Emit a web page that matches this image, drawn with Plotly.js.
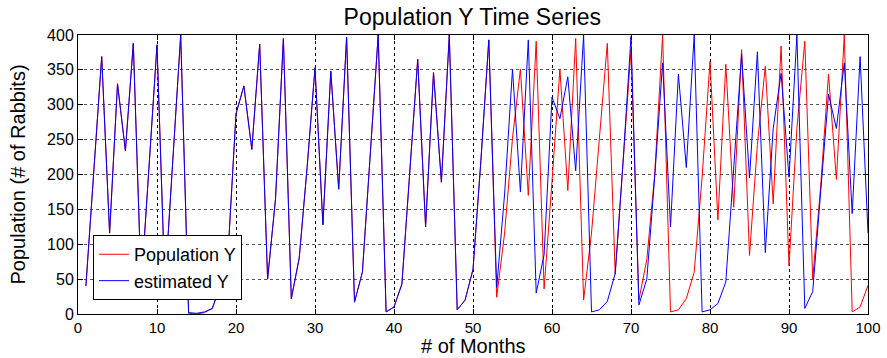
<!DOCTYPE html>
<html>
<head>
<meta charset="utf-8">
<script src="https://cdn.plot.ly/plotly-3.0.1.min.js"></script>
<style>html,body{margin:0;padding:0;background:#fff;}#chart{width:887px;height:358px;}</style>
</head>
<body>
<div id="chart"></div>
<script>
const months = Array.from({length: 100}, (_, i) => i + 1);

const estimatedY = [
  40, 200, 369, 116, 330, 234, 388, 40, 210, 386,
  40, 220, 400, 2, 1, 3, 8, 40, 88, 287,
  327, 236, 387, 50, 165, 395, 22, 80, 210, 353,
  128, 348, 179, 397, 17, 60, 230, 400, 3, 10,
  43, 200, 365, 125, 346, 189, 400, 6, 20, 64,
  220, 393, 38, 172, 351, 175, 393, 30, 85, 311,
  280, 340, 205, 400, 3, 6, 18, 58, 219, 398,
  13, 50, 196, 360, 125, 344, 210, 400, 3, 6,
  15, 46, 210, 372, 195, 376, 88, 266, 345, 196,
  400, 8, 32, 177, 315, 266, 360, 144, 369, 116
];

const populationY = [
  40, 200, 369, 116, 330, 234, 388, 40, 210, 386,
  40, 220, 400, 1, 0, 2, 8, 40, 88, 287,
  327, 236, 387, 50, 165, 395, 22, 80, 210, 353,
  128, 348, 179, 397, 17, 60, 230, 400, 3, 10,
  43, 200, 365, 125, 346, 189, 400, 6, 20, 64,
  220, 393, 24, 116, 252, 351, 170, 391, 36, 190,
  351, 177, 395, 20, 116, 252, 388, 57, 220, 379,
  20, 78, 200, 400, 3, 6, 22, 60, 196, 362,
  135, 358, 153, 379, 84, 243, 355, 158, 384, 69,
  266, 391, 50, 182, 344, 193, 400, 3, 10, 41
];

const xTicks = [0, 10, 20, 30, 40, 50, 60, 70, 80, 90, 100];
const yTicks = [0, 50, 100, 150, 200, 250, 300, 350, 400];
const xTitle = '# of Months';

const FONT = 'Liberation Sans, Arial, Helvetica, sans-serif';

const traces = [
  {x: months, y: populationY, type: 'scatter', mode: 'lines', name: 'Population Y',
   line: {color: '#ff0000', width: 1}},
  {x: months, y: estimatedY, type: 'scatter', mode: 'lines', name: 'estimated Y',
   line: {color: '#0000ff', width: 1}}
];

const layout = {
  width: 887, height: 358,
  margin: {l: 78, r: 19, t: 35, b: 44},
  paper_bgcolor: '#ffffff', plot_bgcolor: '#ffffff',
  font: {family: FONT, color: '#000', size: 16},
  title: {text: 'Population Y Time Series', font: {family: FONT, size: 23, color: '#000'},
          x: 0.5325, xanchor: 'center', y: 0.952, yanchor: 'middle'},
  xaxis: {
    range: [0, 100], tickvals: xTicks, ticktext: xTicks.map(String),
    ticks: 'inside', ticklen: 5, tickcolor: '#000',
    showline: true, linecolor: '#000', linewidth: 1, mirror: 'ticks',
    showgrid: true, gridcolor: '#000', gridwidth: 1, griddash: 'dot',
    zeroline: false, tickfont: {size: 15}
  },
  yaxis: {
    range: [0, 400], tickvals: yTicks, ticktext: yTicks.map(String),
    ticks: 'inside', ticklen: 5, tickcolor: '#000',
    showline: true, linecolor: '#000', linewidth: 1, mirror: 'ticks',
    showgrid: true, gridcolor: '#555', gridwidth: 1, griddash: '3px,3px',
    zeroline: false, tickfont: {size: 16},
    title: {text: 'Population (# of Rabbits)', font: {size: 20}, standoff: 16}
  },
  annotations: [
    {text: xTitle, xref: 'paper', yref: 'paper', x: 0.5, y: -0.157,
     xanchor: 'center', yanchor: 'bottom', showarrow: false, borderpad: 0,
     font: {size: 20, family: FONT, color: '#000'}}
  ],
  showlegend: true,
  legend: {x: 0.019, y: 0.05, xanchor: 'left', yanchor: 'bottom',
           bgcolor: '#ffffff', bordercolor: '#000', borderwidth: 1,
           font: {size: 18}, tracegroupgap: 0}
};

Plotly.newPlot('chart', traces, layout, {displayModeBar: false, staticPlot: true});
</script>
</body>
</html>
